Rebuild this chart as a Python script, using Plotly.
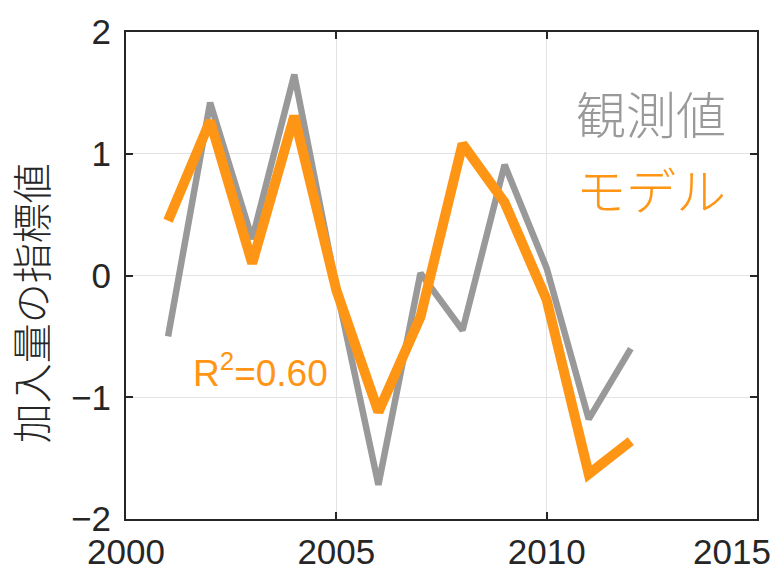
import plotly.graph_objects as go

years = [2001, 2002, 2003, 2004, 2005, 2006, 2007, 2008, 2009, 2010, 2011, 2012]
observed = [-0.50, 1.42, 0.30, 1.65, -0.10, -1.72, 0.02, -0.45, 0.91, 0.06, -1.18, -0.60]
model = [0.45, 1.27, 0.10, 1.31, -0.12, -1.12, -0.34, 1.08, 0.60, -0.20, -1.63, -1.36]

x_ticks = [2000, 2005, 2010, 2015]
x_ticktext = ["2000", "2005", "2010", ""]
last_x_label = "2015"
y_ticks = [-2, -1, 0, 1, 2]

obs_label = "観測値"
model_label = "モデル"
r2_label = "R<sup>2</sup>=0.60"
y_title = "加入量の指標値"

GRAY = "#999999"
ORANGE = "#ff9514"
INK = "#262626"
LATIN = "Liberation Sans, Arial, sans-serif"
CJK = "Noto Sans CJK JP, sans-serif"
TICK_SIZE = 35

fig = go.Figure()
fig.add_trace(go.Scatter(x=years, y=observed, mode="lines",
                         line=dict(color=GRAY, width=6.5), name=obs_label))
fig.add_trace(go.Scatter(x=years, y=model, mode="lines",
                         line=dict(color=ORANGE, width=10), name=model_label))

axis_common = dict(
    showline=True, linecolor=INK, linewidth=2, mirror="ticks",
    ticks="inside", ticklen=7, tickwidth=1.5, tickcolor=INK,
    showgrid=True, gridcolor="#e3e3e3", gridwidth=1,
    zeroline=False, automargin=False,
    tickfont=dict(family=LATIN, size=TICK_SIZE, color=INK),
)

fig.update_xaxes(range=[2000, 2015], tickvals=x_ticks, ticktext=x_ticktext,
                 ticklabelstandoff=1, **axis_common)
fig.update_yaxes(range=[-2, 2], tickvals=y_ticks, ticklabelstandoff=6, **axis_common)

# the rightmost year label is pulled inward so it stays inside the page
fig.add_annotation(x=0.960, y=0, xref="paper", yref="paper", yshift=-32,
                   text=last_x_label, showarrow=False,
                   xanchor="center", yanchor="middle",
                   font=dict(family=LATIN, size=TICK_SIZE, color=INK))

fig.add_annotation(x=-0.152, y=0.443, xref="paper", yref="paper",
                   text=y_title, showarrow=False, textangle=-90,
                   font=dict(family=CJK, size=40, color=INK, weight=300),
                   xanchor="center", yanchor="middle")

fig.add_annotation(x=0.71, y=0.835, xref="paper", yref="paper",
                   text=obs_label, showarrow=False, xanchor="left", yanchor="middle",
                   font=dict(family=CJK, size=50, color=GRAY, weight=300))
fig.add_annotation(x=0.71, y=0.68, xref="paper", yref="paper",
                   text=model_label, showarrow=False, xanchor="left", yanchor="middle",
                   font=dict(family=CJK, size=50, color=ORANGE, weight=300))
fig.add_annotation(x=0.103, y=0.305, xref="paper", yref="paper",
                   text=r2_label, showarrow=False, xanchor="left", yanchor="middle",
                   font=dict(family=LATIN, size=37, color=ORANGE))

fig.update_layout(
    width=777, height=570,
    margin=dict(l=126, r=20, t=32, b=51),
    plot_bgcolor="white", paper_bgcolor="white",
    showlegend=False,
)

fig.write_html("out.html")
